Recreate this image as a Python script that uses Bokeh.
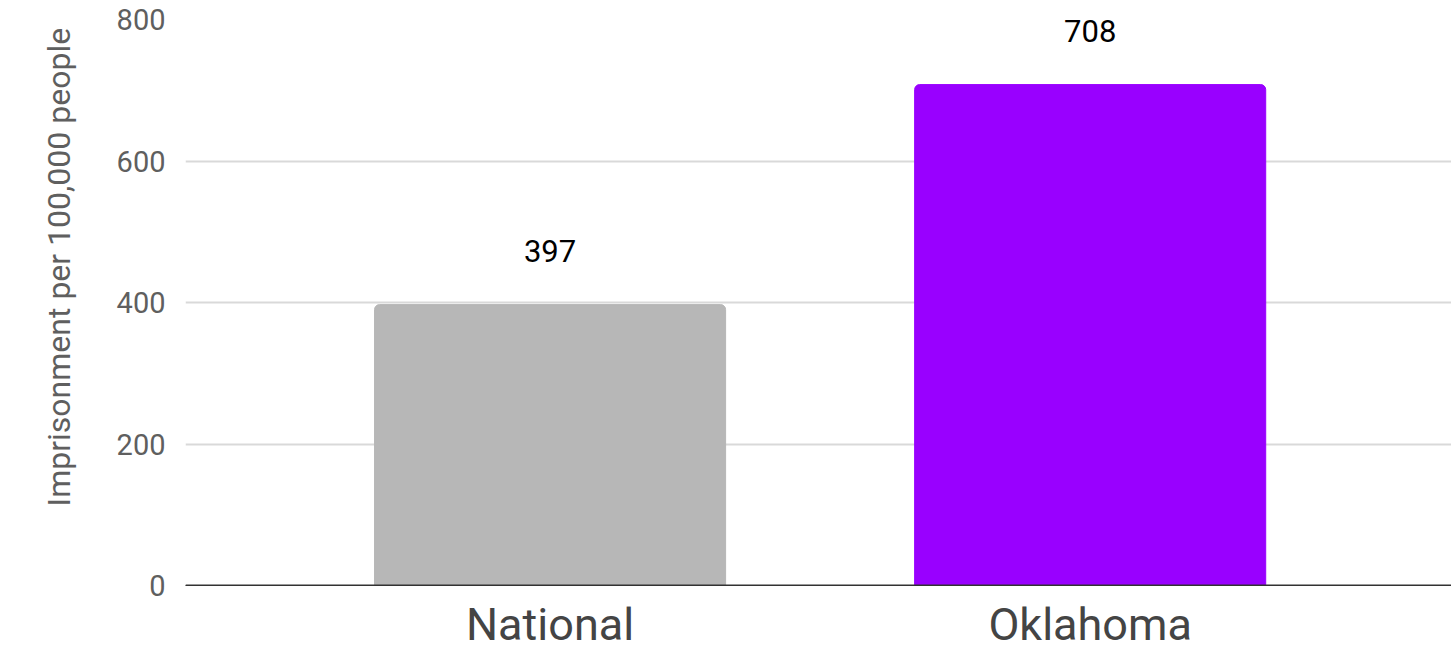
from bokeh.plotting import figure
from bokeh.models import Range1d, FixedTicker, ColumnDataSource, LabelSet, Span, Title
from bokeh.core.properties import value
from bokeh.embed import file_html
from bokeh.resources import INLINE

categories = ["National", "Oklahoma"]
values = [397, 708]
colors = ["#b7b7b7", "#9900ff"]
y_ticks = [0, 200, 400, 600, 800]
y_title = "Imprisonment  per 100,000 people"

idx = list(range(len(categories)))
src = ColumnDataSource(dict(x=idx, top=values, color=colors, label=[str(v) for v in values]))

p = figure(width=1451, height=653, output_backend="svg", toolbar_location=None,
           x_range=Range1d(-0.675, 1.669), y_range=Range1d(0, 800),
           min_border_left=185, min_border_right=0, min_border_top=19, min_border_bottom=10)
p.outline_line_color = None
p.background_fill_color = "white"

p.vbar(x="x", top="top", width=0.65, bottom=0, color="color", source=src,
       border_radius=[5, 5, 0, 0])

labels = LabelSet(x="x", y="top", text="label", source=src, y_offset=54,
                  text_align="center", text_baseline="middle",
                  text_font=value("Roboto"), text_font_size="31px", text_color="#000000",
                  background_fill_color="white", background_fill_alpha=1.0)
p.add_layout(labels)

p.add_layout(Span(location=0, dimension="width", line_color="#333333", line_width=2,
                  level="overlay"))

p.xaxis.ticker = FixedTicker(ticks=idx)
p.xaxis.major_label_overrides = {i: c for i, c in zip(idx, categories)}
p.xaxis.major_label_text_font = "Roboto"
p.xaxis.major_label_text_font_size = "45px"
p.xaxis.major_label_text_color = "#444444"
p.xaxis.major_label_standoff = 12
p.xaxis.axis_line_color = "#333333"
p.xaxis.axis_line_width = 1
p.xaxis.major_tick_line_color = None
p.xaxis.minor_tick_line_color = None
p.xaxis.major_tick_out = 0
p.xaxis.major_tick_in = 0

p.yaxis.ticker = FixedTicker(ticks=y_ticks)
p.yaxis.major_label_text_font = "Roboto"
p.yaxis.major_label_text_font_size = "29px"
p.yaxis.major_label_text_color = "#5f5f5f"
p.yaxis.major_label_standoff = 20
p.yaxis.axis_line_color = None
p.yaxis.major_tick_line_color = None
p.yaxis.minor_tick_line_color = None
p.yaxis.major_tick_out = 0
p.yaxis.major_tick_in = 0

title = Title(text=y_title, align="left", offset=79, standoff=71,
              text_font="Roboto", text_font_size="32px", text_font_style="normal",
              text_color="#5f5f5f")
p.add_layout(title, "left")

p.xgrid.grid_line_color = None
p.ygrid.grid_line_color = "#d9d9d9"
p.ygrid.grid_line_width = 2

open("out.html", "w").write(file_html(p, INLINE))
